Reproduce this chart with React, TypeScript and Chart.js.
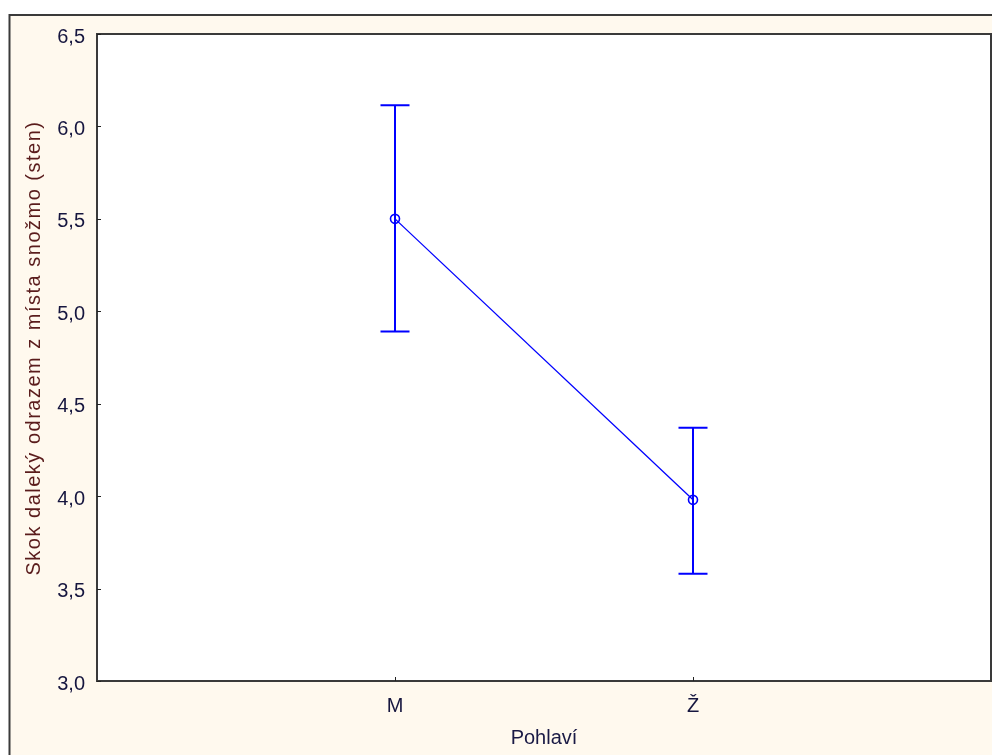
import React, { useEffect, useRef } from "react";
import { Chart, registerables } from "chart.js";

Chart.register(...registerables);

const categories = ["M", "Ž"];
const categoryPositions = [1, 2];
const means = [5.5, 3.98];
const upperLimits = [6.115, 4.37];
const lowerLimits = [4.89, 3.58];
const yTicks = [3.0, 3.5, 4.0, 4.5, 5.0, 5.5, 6.0, 6.5];
const yTitle = "Skok daleký odrazem z místa snožmo (sten)";
const xTitle = "Pohlaví";

const FONT = "'Liberation Sans', Arial, sans-serif";
const BLUE = "#0000FF";
const CREAM = "#FFF9EE";
const FRAME = "#3a3a3a";
const TICK_COLOR = "#16163f";
const YTITLE_COLOR = "#5a1c1c";
const XTITLE_COLOR = "#1a1a45";

const framePlugin = {
  id: "statFrame",
  beforeDraw(chart: any) {
    const { ctx, width, height, chartArea: a } = chart;
    ctx.save();
    ctx.fillStyle = "#FFFFFF";
    ctx.fillRect(0, 0, width, height);
    ctx.fillStyle = CREAM;
    ctx.fillRect(9, 15, width - 9, height - 15);
    ctx.strokeStyle = FRAME;
    ctx.lineWidth = 2;
    ctx.beginPath();
    ctx.moveTo(9.5, height);
    ctx.lineTo(9.5, 15);
    ctx.lineTo(width, 15);
    ctx.stroke();
    ctx.fillStyle = "#FFFFFF";
    ctx.fillRect(a.left, a.top, a.right - a.left, a.bottom - a.top);
    ctx.restore();
  },
  beforeDatasetsDraw(chart: any) {
    const { ctx } = chart;
    const xs = chart.scales.x;
    const ys = chart.scales.y;
    ctx.save();
    ctx.strokeStyle = BLUE;
    ctx.lineWidth = 2;
    categoryPositions.forEach((p, i) => {
      const x = Math.round(xs.getPixelForValue(p));
      const yt = ys.getPixelForValue(upperLimits[i]);
      const yb = ys.getPixelForValue(lowerLimits[i]);
      const cap = 14.5;
      ctx.beginPath();
      ctx.moveTo(x, yt);
      ctx.lineTo(x, yb);
      ctx.moveTo(x - cap, yt);
      ctx.lineTo(x + cap, yt);
      ctx.moveTo(x - cap, yb);
      ctx.lineTo(x + cap, yb);
      ctx.stroke();
    });
    ctx.restore();
  },
  afterDraw(chart: any) {
    const { ctx, chartArea: a } = chart;
    const xs = chart.scales.x;
    const ys = chart.scales.y;
    ctx.save();
    // plot border
    ctx.strokeStyle = FRAME;
    ctx.lineWidth = 2;
    ctx.strokeRect(a.left, a.top, a.right - a.left, a.bottom - a.top);
    // inner tick marks
    ctx.lineWidth = 1;
    ctx.strokeStyle = "#222222";
    ctx.beginPath();
    yTicks.forEach((v) => {
      const y = Math.round(ys.getPixelForValue(v)) + 0.5;
      ctx.moveTo(a.left, y);
      ctx.lineTo(a.left + 4, y);
    });
    categoryPositions.forEach((p) => {
      const x = Math.round(xs.getPixelForValue(p)) + 0.5;
      ctx.moveTo(x, a.bottom);
      ctx.lineTo(x, a.bottom - 4);
    });
    ctx.stroke();
    // y title
    ctx.fillStyle = YTITLE_COLOR;
    ctx.font = `20px ${FONT}`;
    (ctx as any).letterSpacing = "1.5px";
    ctx.textAlign = "center";
    ctx.textBaseline = "middle";
    ctx.translate(34, 348);
    ctx.rotate(-Math.PI / 2);
    ctx.fillText(yTitle, 0, 0);
    ctx.restore();
    // x title
    ctx.save();
    ctx.fillStyle = XTITLE_COLOR;
    ctx.font = `20px ${FONT}`;
    ctx.textAlign = "center";
    ctx.textBaseline = "middle";
    ctx.fillText(xTitle, (a.left + a.right) / 2, 738);
    ctx.restore();
  },
};

export default function App() {
  const ref = useRef<HTMLCanvasElement | null>(null);
  useEffect(() => {
    document.body.style.margin = "0";
    const canvas = ref.current;
    if (!canvas) return;
    const chart = new Chart(canvas, {
      type: "line",
      data: {
        datasets: [
          {
            data: categoryPositions.map((p, i) => ({ x: p, y: means[i] })),
            borderColor: BLUE,
            borderWidth: 1.3,
            backgroundColor: "rgba(0,0,0,0)",
            pointRadius: 4.5,
            pointBorderWidth: 1.6,
            pointBorderColor: BLUE,
            pointBackgroundColor: "rgba(0,0,0,0)",
            tension: 0,
            clip: false as any,
          },
        ],
      },
      options: {
        animation: false,
        responsive: false,
        devicePixelRatio: 1,
        layout: { autoPadding: false, padding: { top: 34, right: 1, left: 0, bottom: 0 } },
        plugins: {
          legend: { display: false },
          tooltip: { enabled: false },
          title: { display: false },
        },
        scales: {
          x: {
            type: "linear",
            min: 0,
            max: 3,
            afterBuildTicks: (s: any) => {
              s.ticks = categoryPositions.map((v) => ({ value: v }));
            },
            afterFit: (s: any) => {
              s.height = 74;
            },
            grid: { display: false, drawTicks: false },
            border: { display: false },
            ticks: {
              autoSkip: false,
              maxRotation: 0,
              padding: 13,
              color: TICK_COLOR,
              font: { family: FONT, size: 20 },
              callback: (v: any) => {
                const i = categoryPositions.indexOf(Number(v));
                return i >= 0 ? categories[i] : "";
              },
            },
          },
          y: {
            type: "linear",
            min: 3,
            max: 6.5,
            afterBuildTicks: (s: any) => {
              s.ticks = yTicks.map((v) => ({ value: v }));
            },
            afterFit: (s: any) => {
              s.width = 97;
            },
            grid: { display: false, drawTicks: false },
            border: { display: false },
            ticks: {
              autoSkip: false,
              padding: 12,
              labelOffset: 3,
              color: TICK_COLOR,
              font: { family: FONT, size: 20 },
              callback: (v: any) => Number(v).toFixed(1).replace(".", ","),
            },
          },
        },
      },
      plugins: [framePlugin],
    });
    return () => chart.destroy();
  }, []);
  return (
    <div style={{ position: "fixed", left: 0, top: 0, width: 992, height: 755 }}>
      <canvas ref={ref} width={992} height={755} style={{ display: "block" }} />
    </div>
  );
}
